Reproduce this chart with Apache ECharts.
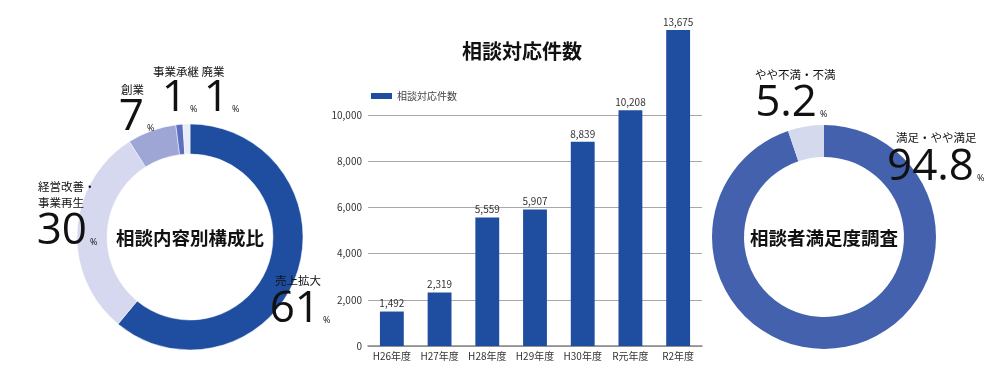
<!DOCTYPE html>
<html><head><meta charset="utf-8">
<script src="https://cdn.jsdelivr.net/npm/echarts@6/dist/echarts.min.js"></script>
<style>html,body{margin:0;padding:0;background:#fff}#c{width:1000px;height:370px}</style>
</head><body><div id="c"></div>
<script>
// ---- data ----
const contentCats = ['売上拡大', '経営改善・事業再生', '創業', '事業承継', '廃業'];
const contentVals = [61, 30, 7, 1, 1];
const years = ['H26年度', 'H27年度', 'H28年度', 'H29年度', 'H30年度', 'R元年度', 'R2年度'];
const counts = [1492, 2319, 5559, 5907, 8839, 10208, 13675];
const satCats = ['満足・やや満足', 'やや不満・不満'];
const satVals = [94.8, 5.2];
const barTitle = '相談対応件数';
const leftTitle = '相談内容別構成比';
const rightTitle = '相談者満足度調査';

const JP = '"Noto Sans CJK JP", "Noto Sans", sans-serif';
const NUM = '"Open Sans", "Noto Sans", sans-serif';
const contentColors = ['#1f4ea0', '#d5d8ee', '#9ea6d6', '#5a6fbf', '#e9ebf6'];
const satColors = ['#4461ad', '#d5d9ee'];

function lbl(x, y, t, size, align) {
  return { type: 'text', z: 100, x: x, y: y, style: { text: t, fontSize: size || 11.5, fontFamily: JP, fill: '#111', align: align || 'left', verticalAlign: 'middle' } };
}
function num(xr, yc, v) {
  return [
    { type: 'text', z: 100, x: xr, y: yc, style: { text: String(v), fontSize: 44, fontFamily: NUM, fill: '#111', align: 'right', verticalAlign: 'middle' } },
    { type: 'text', z: 100, x: xr + 3, y: yc + 16, style: { text: '%', fontSize: 9, fontFamily: NUM, fill: '#111', align: 'left', verticalAlign: 'bottom' } }
  ];
}

const graphics = [
  { type: 'text', z: 100, x: 190, y: 238, style: { text: leftTitle, fontSize: 18.5, fontWeight: 'bold', fontFamily: JP, fill: '#111', align: 'center', verticalAlign: 'middle' } },
  { type: 'text', z: 100, x: 824, y: 238, style: { text: rightTitle, fontSize: 18.5, fontWeight: 'bold', fontFamily: JP, fill: '#111', align: 'center', verticalAlign: 'middle' } },
  // left annotations
  lbl(153, 72, contentCats[3] + ' ' + contentCats[4], 11.5),
  ...num(187, 98, contentVals[3]),
  ...num(229, 98, contentVals[4]),
  lbl(121, 90, contentCats[2], 11.5),
  ...num(144, 117, contentVals[2]),
  lbl(38, 187, contentCats[1].slice(0, 5), 11.5),
  lbl(38, 203, contentCats[1].slice(5), 11.5),
  ...num(87, 231, contentVals[1]),
  lbl(275, 281, contentCats[0], 11.5),
  ...num(320, 309, contentVals[0]),
  // right annotations
  lbl(755, 75, satCats[1], 11.5),
  ...num(817, 103, satVals[1]),
  lbl(896, 138, satCats[0], 11.5),
  ...num(974, 167, satVals[0])
];

const chart = echarts.init(document.getElementById('c'), null, { renderer: 'canvas' });
chart.setOption({
  animation: false,
  backgroundColor: '#fff',
  title: { text: barTitle, left: 457, top: 36, textStyle: { fontSize: 20, fontWeight: 'bold', fontFamily: JP, color: '#111' } },
  legend: { data: [barTitle], left: 366, top: 86, itemWidth: 21, itemHeight: 6, itemGap: 4, icon: 'rect',
    textStyle: { fontSize: 10, fontFamily: JP, color: '#444' } },
  grid: { left: 368, right: 298, top: 115, bottom: 24, containLabel: false },
  xAxis: { type: 'category', data: years,
    axisLine: { lineStyle: { color: '#888', width: 1.5 } }, axisTick: { show: false },
    axisLabel: { interval: 0, fontSize: 10, fontFamily: JP, color: '#333', margin: 5 } },
  yAxis: { type: 'value', min: 0, max: 10000, interval: 2000,
    axisLine: { show: false }, axisTick: { show: false },
    splitLine: { lineStyle: { color: '#a8a8a8', width: 1 } },
    axisLabel: { fontSize: 10, fontFamily: JP, color: '#333', margin: 6,
      formatter: v => v.toLocaleString('en-US') } },
  series: [
    { type: 'bar', name: barTitle, data: counts, barWidth: '50%', clip: false,
      itemStyle: { color: '#1f4ea0' },
      label: { show: true, position: 'top', distance: 3, fontSize: 10, fontFamily: JP, color: '#333',
        formatter: p => p.value.toLocaleString('en-US') } },
    { type: 'pie', center: [190, 237], radius: [83, 113], startAngle: 90, clockwise: true, z: 1,
      label: { show: false }, labelLine: { show: false }, silent: true,
      itemStyle: { borderColor: '#fff', borderWidth: 0.5 },
      data: contentCats.map((c, i) => ({ name: c, value: contentVals[i], itemStyle: { color: contentColors[i] } })) },
    { type: 'pie', center: [824, 237], radius: [80, 112], startAngle: 90, clockwise: true, z: 1,
      label: { show: false }, labelLine: { show: false }, silent: true,
      data: satCats.map((c, i) => ({ name: c, value: satVals[i], itemStyle: { color: satColors[i] } })) }
  ],
  graphic: graphics
});
</script></body></html>
